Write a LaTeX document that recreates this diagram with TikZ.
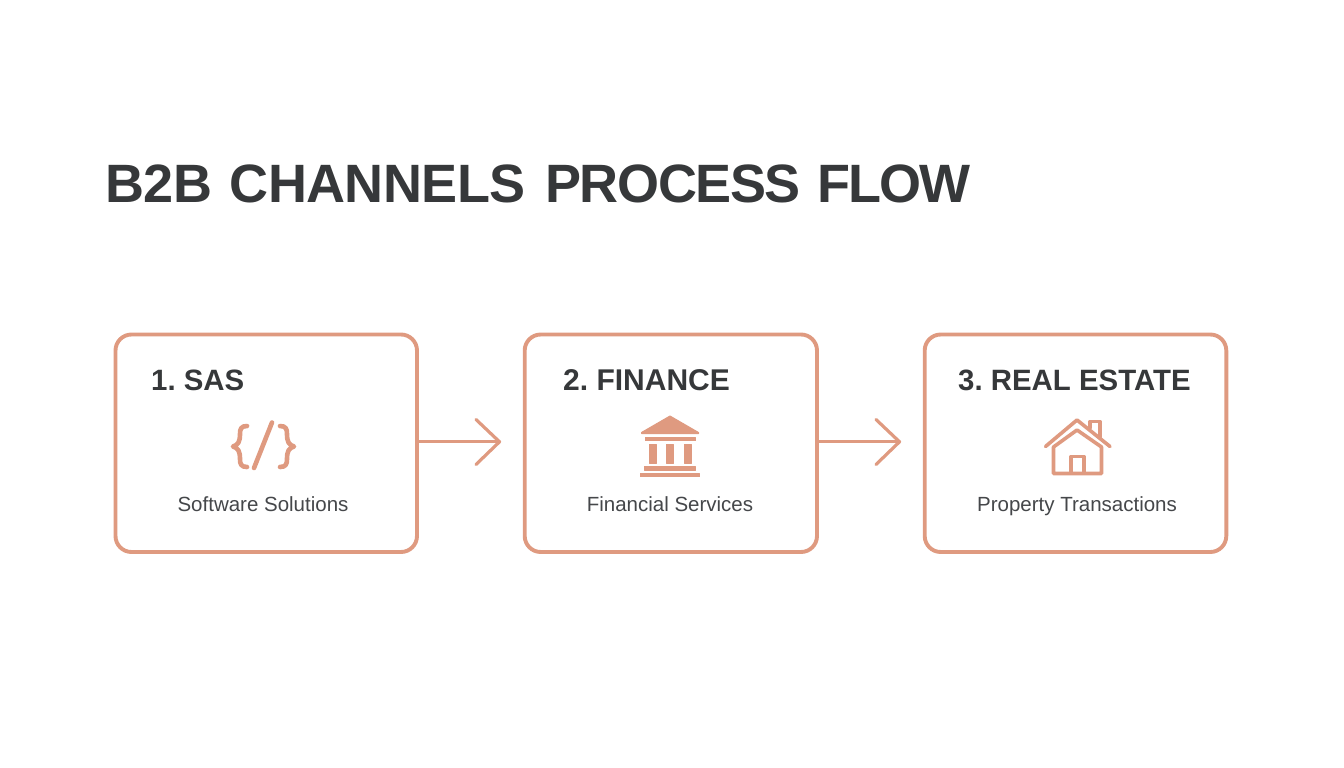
\documentclass[tikz,border=0pt]{standalone}
\usepackage{fontspec}
\setmainfont{Liberation Sans}
\frenchspacing
\definecolor{accent}{HTML}{DF9A80}
\definecolor{ink}{HTML}{36383A}
\definecolor{subink}{HTML}{45474A}
\newcommand{\wordA}[1]{{\addfontfeature{LetterSpace=-2.6}#1}}
\newcommand{\wordB}[1]{{\addfontfeature{LetterSpace=-4.2}#1}}
\tikzset{
 x=1pt,y=-1pt,
 card/.style={draw=accent,line width=3.9pt,rounded corners=16pt,fill=white,inner sep=0pt,outer sep=0pt,anchor=north west,minimum height=217.5pt},
 heading/.style={text=ink,font=\fontsize{29.4}{30}\selectfont\bfseries,anchor=base west,inner sep=0pt},
 caption/.style={text=subink,font=\fontsize{20.5}{21}\selectfont,anchor=base,inner sep=0pt},
 flow/.style={draw=accent,line width=3.2pt,line cap=round,line join=round},
 iconline/.style={draw=accent,line width=3.6pt,line cap=round,line join=round},
 iconfill/.style={fill=accent,draw=accent,line width=1pt,line join=round},
}
\begin{document}
\begin{tikzpicture}
\useasboundingbox (0,0) rectangle (1344,768);
\node[text=ink,font=\fontsize{54}{54}\selectfont\bfseries\addfontfeature{LetterSpace=-1},anchor=base west,inner sep=0pt] (title) at (105,202) {B2B\hspace{3pt} CHANNELS\hspace{5pt} \wordA{PROCESS}\hspace{2.5pt} \wordB{FLOW}};
\node[card,minimum width=301.5pt] (box1) at (115.5,334.5) {};
\node[card,minimum width=292.3pt] (box2) at (524.7,334.5) {};
\node[card,minimum width=301.6pt] (box3) at (924.7,334.5) {};
\node[heading] (h1) at (151,390) {1. SAS};
\node[heading,font=\fontsize{30}{30}\selectfont\bfseries] (h2) at (563,390) {2. FINANCE};
\node[heading] (h3) at (958,390) {3. REAL ESTATE};
\node[caption] (c1) at (263,511) {Software Solutions};
\node[caption] (c2) at (670,511) {Financial Services};
\node[caption] (c3) at (1077,511) {Property Transactions};
\coordinate (a1) at (499.5,441.8);
\coordinate (a2) at (899.5,441.8);
\draw[flow] (box1.east |- a1) -- (a1);
\draw[flow] (476,419.5) -- (a1) -- (476,464.5);
\draw[flow] (box2.east |- a2) -- (a2);
\draw[flow] (876,419.5) -- (a2) -- (876,464.5);
% code icon
\draw[iconline,line width=4.6pt] (247,426) .. controls (241,426) and (240,429) .. (240,434) .. controls (240,442) and (238,445) .. (233,446.5) .. controls (238,448) and (240,451) .. (240,459) .. controls (240,464) and (241,467) .. (247,467);
\draw[iconline,line width=4.6pt] (272,422.5) -- (254,468);
\draw[iconline,line width=4.6pt] (280,426) .. controls (286,426) and (287,429) .. (287,434) .. controls (287,442) and (289,445) .. (294,446.5) .. controls (289,448) and (287,451) .. (287,459) .. controls (287,464) and (286,467) .. (280,467);
% bank icon
\filldraw[iconfill] (670,416) -- (698.5,432.5) -- (698.5,433.5) -- (641.5,433.5) -- (641.5,432.5) -- cycle;
\filldraw[iconfill] (645,437.5) rectangle (695.5,440.5);
\filldraw[iconfill] (649.5,444.5) rectangle (656.5,463);
\filldraw[iconfill] (666.5,444.5) rectangle (673.5,463);
\filldraw[iconfill] (684,444.5) rectangle (691,463);
\filldraw[iconfill] (644.5,466.5) rectangle (695.5,470);
\filldraw[iconfill] (640,473.5) rectangle (699.5,476.5);
% house icon
\draw[iconline] (1045.5,446.5) -- (1077,420) -- (1110,446.5);
\draw[iconline] (1053.5,447) -- (1077,430) -- (1101.5,447) -- (1101.5,473.5) -- (1053.5,473.5) -- cycle;
\draw[iconline] (1071,473) -- (1071,456.5) -- (1084,456.5) -- (1084,473);
\draw[iconline] (1090,428) -- (1090,421.5) -- (1100,421.5) -- (1100,437);
\end{tikzpicture}
\end{document}
